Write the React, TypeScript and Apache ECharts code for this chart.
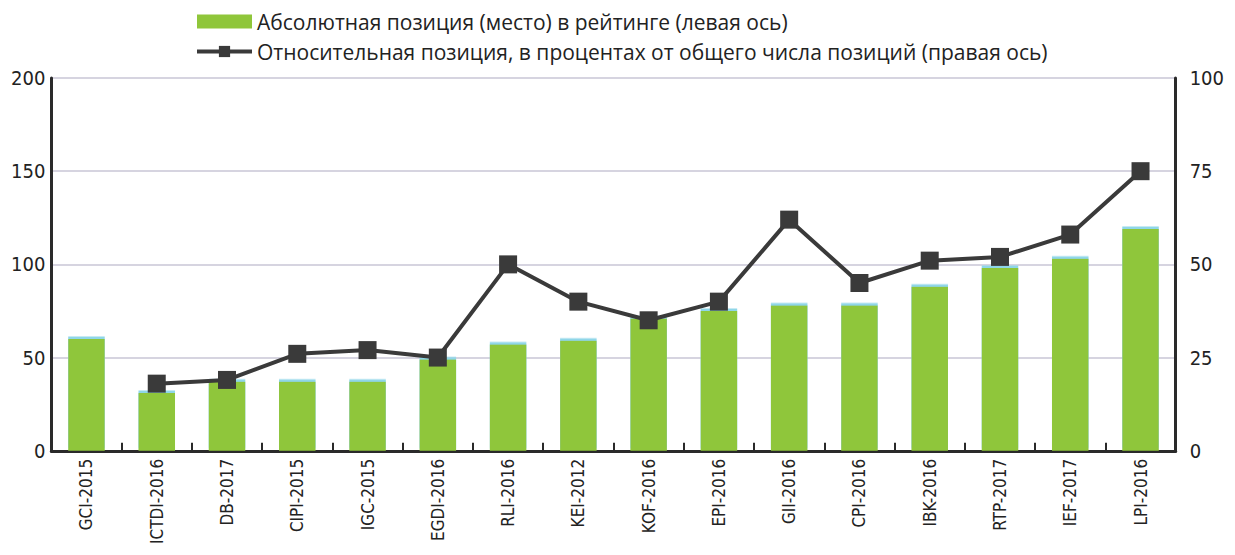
import React, { useEffect, useRef } from "react";
import * as echarts from "echarts";

const categories = [
  "GCI-2015", "ICTDI-2016", "DB-2017", "CIPI-2015", "IGC-2015", "EGDI-2016",
  "RLI-2016", "KEI-2012", "KOF-2016", "EPI-2016", "GII-2016", "CPI-2016",
  "IBK-2016", "RTP-2017", "IEF-2017", "LPI-2016",
];
const absolutePosition = [60, 31, 37, 37, 37, 49, 57, 59, 71, 75, 78, 78, 88, 98, 103, 119];
const relativePercent = [null, 18, 19, 26, 27, 25, 50, 40, 35, 40, 62, 45, 51, 52, 58, 75];
const leftTicks = { min: 0, max: 200, interval: 50 };
const rightTicks = { min: 0, max: 100, interval: 25 };
const barName = "Абсолютная позиция (место) в рейтинге (левая ось)";
const lineName = "Относительная позиция, в процентах от общего числа позиций (правая ось)";

const FONT = "'DejaVu Sans Condensed', 'Liberation Sans Narrow', 'Roboto', sans-serif";

export default function App() {
  const ref = useRef<HTMLDivElement>(null);
  useEffect(() => {
    if (!ref.current) return;
    const chart = echarts.init(ref.current, undefined, { renderer: "svg" });
    chart.setOption({
      animation: false,
      backgroundColor: "#ffffff",
      textStyle: { fontFamily: FONT },
      legend: {
        orient: "vertical",
        left: 182,
        top: -2,
        itemGap: 9,
        itemWidth: 55,
        itemHeight: 14,
        textStyle: { fontSize: 21, color: "#222", fontFamily: "'Open Sans', 'Noto Sans', sans-serif" },
        data: [
          { name: barName, icon: "rect" },
          { name: lineName, lineStyle: { width: 4, color: "#3a3a3a" } },
        ],
      },
      grid: { left: 39, right: 47, top: 70, bottom: 95 },
      xAxis: {
        type: "category",
        data: categories,
        axisLine: { lineStyle: { color: "#2a2a2a", width: 3 } },
        axisTick: { show: true, inside: true, length: 8, lineStyle: { color: "#2a2a2a", width: 2 } },
        axisLabel: { rotate: 90, fontSize: 17, color: "#222", margin: 8, interval: 0 },
      },
      yAxis: [
        {
          type: "value",
          ...leftTicks,
          axisLine: { show: true, lineStyle: { color: "#2a2a2a", width: 3 } },
          axisTick: { show: false },
          axisLabel: { fontSize: 20, color: "#222", margin: 6 },
          splitLine: { show: true, lineStyle: { color: "#c9c6d6", width: 1.5 } },
        },
        {
          type: "value",
          ...rightTicks,
          axisLine: { show: true, lineStyle: { color: "#2a2a2a", width: 3 } },
          axisTick: { show: false },
          axisLabel: { fontSize: 20, color: "#222", margin: 14 },
          splitLine: { show: false },
        },
      ],
      series: [
        {
          name: barName,
          type: "bar",
          yAxisIndex: 0,
          data: absolutePosition,
          barWidth: "52%",
          itemStyle: {
            color: "#8fc63a",
            shadowColor: "#8fd6e8",
            shadowBlur: 0,
            shadowOffsetY: -2.5,
          },
        },
        {
          name: lineName,
          type: "line",
          yAxisIndex: 1,
          data: relativePercent,
          symbol: "rect",
          symbolSize: 18,
          lineStyle: { color: "#3a3a3a", width: 4 },
          itemStyle: { color: "#3a3a3a" },
          z: 5,
        },
      ],
    });
    return () => chart.dispose();
  }, []);
  return <div ref={ref} style={{ width: 1219, height: 539 }} />;
}
